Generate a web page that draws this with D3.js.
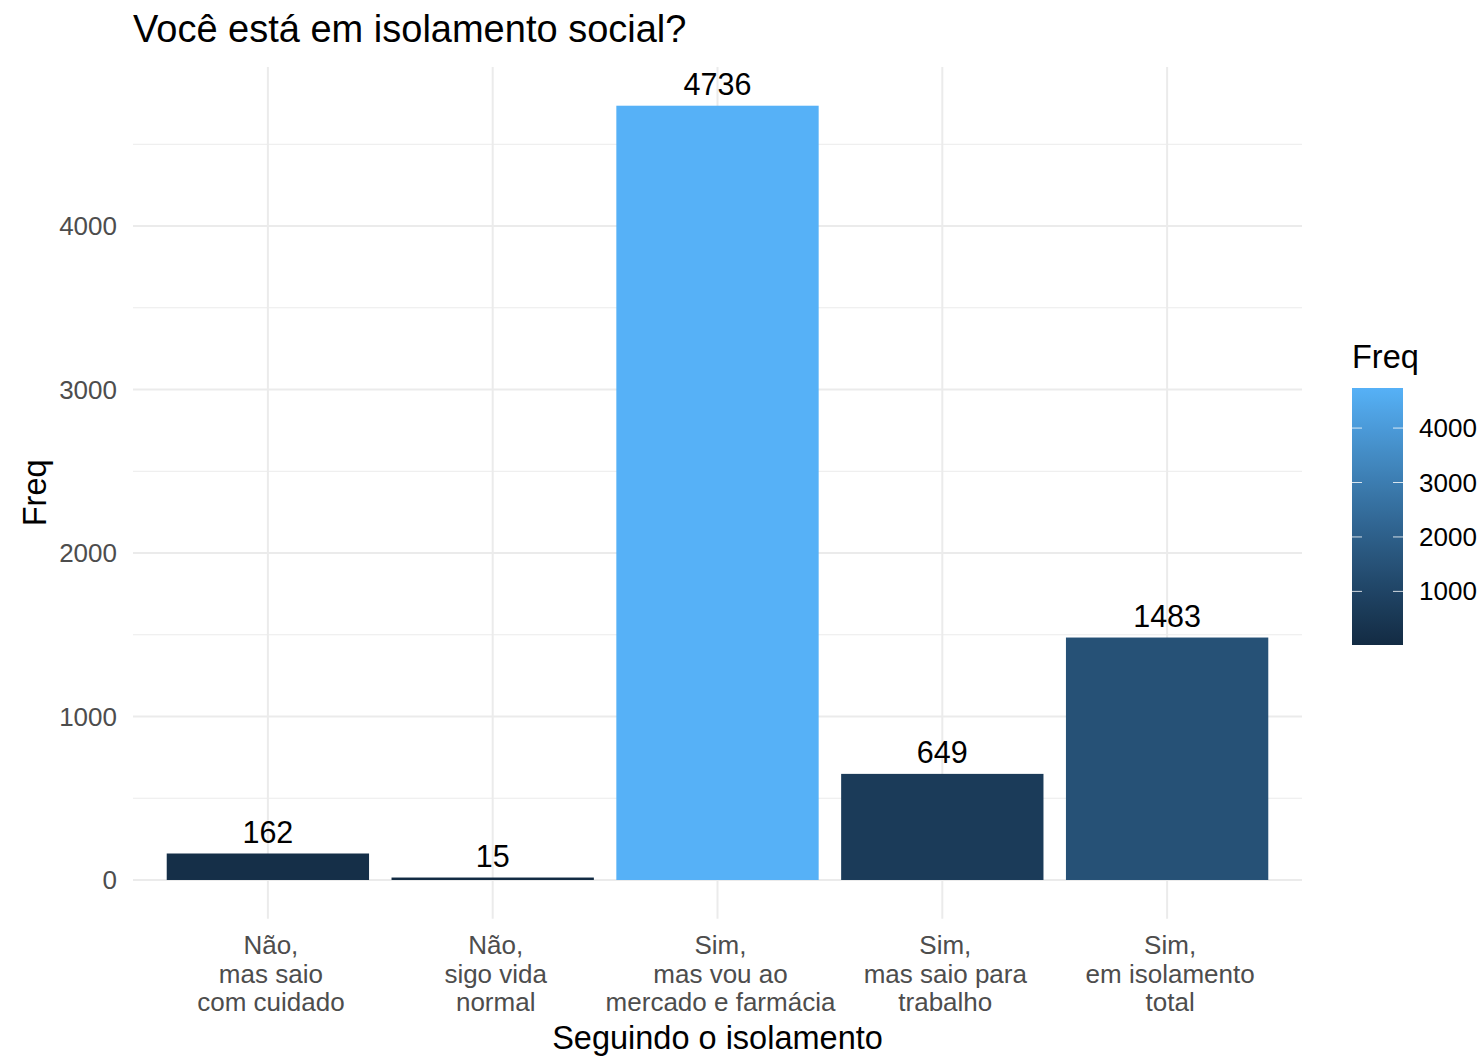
<!DOCTYPE html>
<html><head><meta charset="utf-8">
<script src="https://cdn.jsdelivr.net/npm/d3@7"></script>
<style>body{margin:0;background:#fff}svg{display:block}text{font-family:"Liberation Sans",Arial,sans-serif}</style>
</head><body>
<script>
const categories = ["Não,\nmas saio\ncom cuidado", "Não,\nsigo vida\nnormal", "Sim,\nmas vou ao\nmercado e farmácia", "Sim,\nmas saio para\ntrabalho", "Sim,\nem isolamento\ntotal"];
const freq = [162, 15, 4736, 649, 1483];
const yTicks = [0, 1000, 2000, 3000, 4000];
const yMinor = [500, 1500, 2500, 3500, 4500];
const legendTicks = [1000, 2000, 3000, 4000];
const titleText = "Você está em isolamento social?";
const xTitle = "Seguindo o isolamento";
const yTitle = "Freq";

const W = 1481, H = 1056;
const svg = d3.select("body").append("svg").attr("width", W).attr("height", H);
const panel = {left: 133, right: 1302, top: 67, bottom: 918.7};

const n = categories.length;
const step = (panel.right - panel.left) / (n - 1 + 1.2);
const xc = d3.scalePoint().domain(d3.range(n)).range([panel.left + 0.6*step, panel.right - 0.6*step]);
const bw = step * 0.9;

const maxV = d3.max(freq);
const y = d3.scaleLinear().domain([-0.05*maxV, maxV*1.05]).range([panel.bottom, panel.top]);
const cmin = d3.min(freq), cmax = d3.max(freq);
const color = d3.scaleLinear().domain([cmin, cmax]).range(["#132B43", "#56B1F7"]).interpolate(d3.interpolateLab);

const grid = svg.append("g");
grid.selectAll(".minor").data(yMinor).join("line")
  .attr("x1", panel.left).attr("x2", panel.right)
  .attr("y1", d => y(d)).attr("y2", d => y(d))
  .attr("stroke", "#ebebeb").attr("stroke-width", 1);
grid.selectAll(".major").data(yTicks).join("line")
  .attr("x1", panel.left).attr("x2", panel.right)
  .attr("y1", d => y(d)).attr("y2", d => y(d))
  .attr("stroke", "#ebebeb").attr("stroke-width", 2);
grid.selectAll(".vmajor").data(d3.range(n)).join("line")
  .attr("x1", d => xc(d)).attr("x2", d => xc(d))
  .attr("y1", panel.top).attr("y2", panel.bottom)
  .attr("stroke", "#ebebeb").attr("stroke-width", 2);

svg.append("g").selectAll("rect").data(freq).join("rect")
  .attr("x", (d,i) => xc(i) - bw/2).attr("width", bw)
  .attr("y", d => y(d)).attr("height", d => y(0) - y(d))
  .attr("fill", d => color(d));

svg.append("g").selectAll("text").data(freq).join("text")
  .attr("x", (d,i) => xc(i)).attr("y", d => y(d) - 11)
  .attr("text-anchor", "middle").attr("font-size", 30.5).attr("fill", "#000")
  .text(d => d);

// y axis labels
svg.append("g").selectAll("text").data(yTicks).join("text")
  .attr("x", 117).attr("y", d => y(d)).attr("dy", "0.35em")
  .attr("text-anchor", "end").attr("font-size", 26).attr("fill", "#4D4D4D")
  .text(d => d);

// x axis labels
const xl = svg.append("g").selectAll("text").data(categories).join("text")
  .attr("text-anchor", "middle").attr("font-size", 26).attr("fill", "#4D4D4D");
xl.each(function(d, i) {
  const lines = d.split("\n");
  d3.select(this).selectAll("tspan").data(lines).join("tspan")
    .attr("x", xc(i) + 3).attr("y", (l, j) => 954 + j*28.7).text(l => l);
});

svg.append("text").attr("x", 133).attr("y", 42).attr("font-size", 38).attr("fill", "#000").text(titleText);
svg.append("text").attr("x", (panel.left+panel.right)/2).attr("y", 1049).attr("text-anchor", "middle").attr("font-size", 32.5).attr("fill", "#000").text(xTitle);
svg.append("text").attr("transform", `translate(46,${(panel.top+panel.bottom)/2}) rotate(-90)`).attr("text-anchor", "middle").attr("font-size", 32.5).attr("fill", "#000").text(yTitle);

// legend
const lg = {x: 1352, w: 51, top: 388, bottom: 645};
const ly = d3.scaleLinear().domain([cmin, cmax]).range([lg.bottom, lg.top]);
const defs = svg.append("defs");
const grad = defs.append("linearGradient").attr("id", "cb").attr("x1", 0).attr("x2", 0).attr("y1", 1).attr("y2", 0);
grad.selectAll("stop").data(d3.range(0, 1.0001, 0.05)).join("stop")
  .attr("offset", d => d).attr("stop-color", d => color(cmin + d*(cmax-cmin)));
svg.append("rect").attr("x", lg.x).attr("y", lg.top).attr("width", lg.w).attr("height", lg.bottom - lg.top).attr("fill", "url(#cb)");
const lt = svg.append("g");
lt.selectAll(".l").data(legendTicks).join("line").attr("x1", lg.x).attr("x2", lg.x + 10).attr("y1", d => ly(d)).attr("y2", d => ly(d)).attr("stroke", "#fff").attr("stroke-opacity", 0.8).attr("stroke-width", 1);
lt.selectAll(".r").data(legendTicks).join("line").attr("x1", lg.x + lg.w - 10).attr("x2", lg.x + lg.w).attr("y1", d => ly(d)).attr("y2", d => ly(d)).attr("stroke", "#fff").attr("stroke-opacity", 0.8).attr("stroke-width", 1);
svg.append("g").selectAll("text").data(legendTicks).join("text")
  .attr("x", 1419).attr("y", d => ly(d)).attr("dy", "0.35em")
  .attr("font-size", 26).attr("fill", "#000").text(d => d);
svg.append("text").attr("x", 1352).attr("y", 368).attr("font-size", 32.5).attr("fill", "#000").text("Freq");
</script>
</body></html>
